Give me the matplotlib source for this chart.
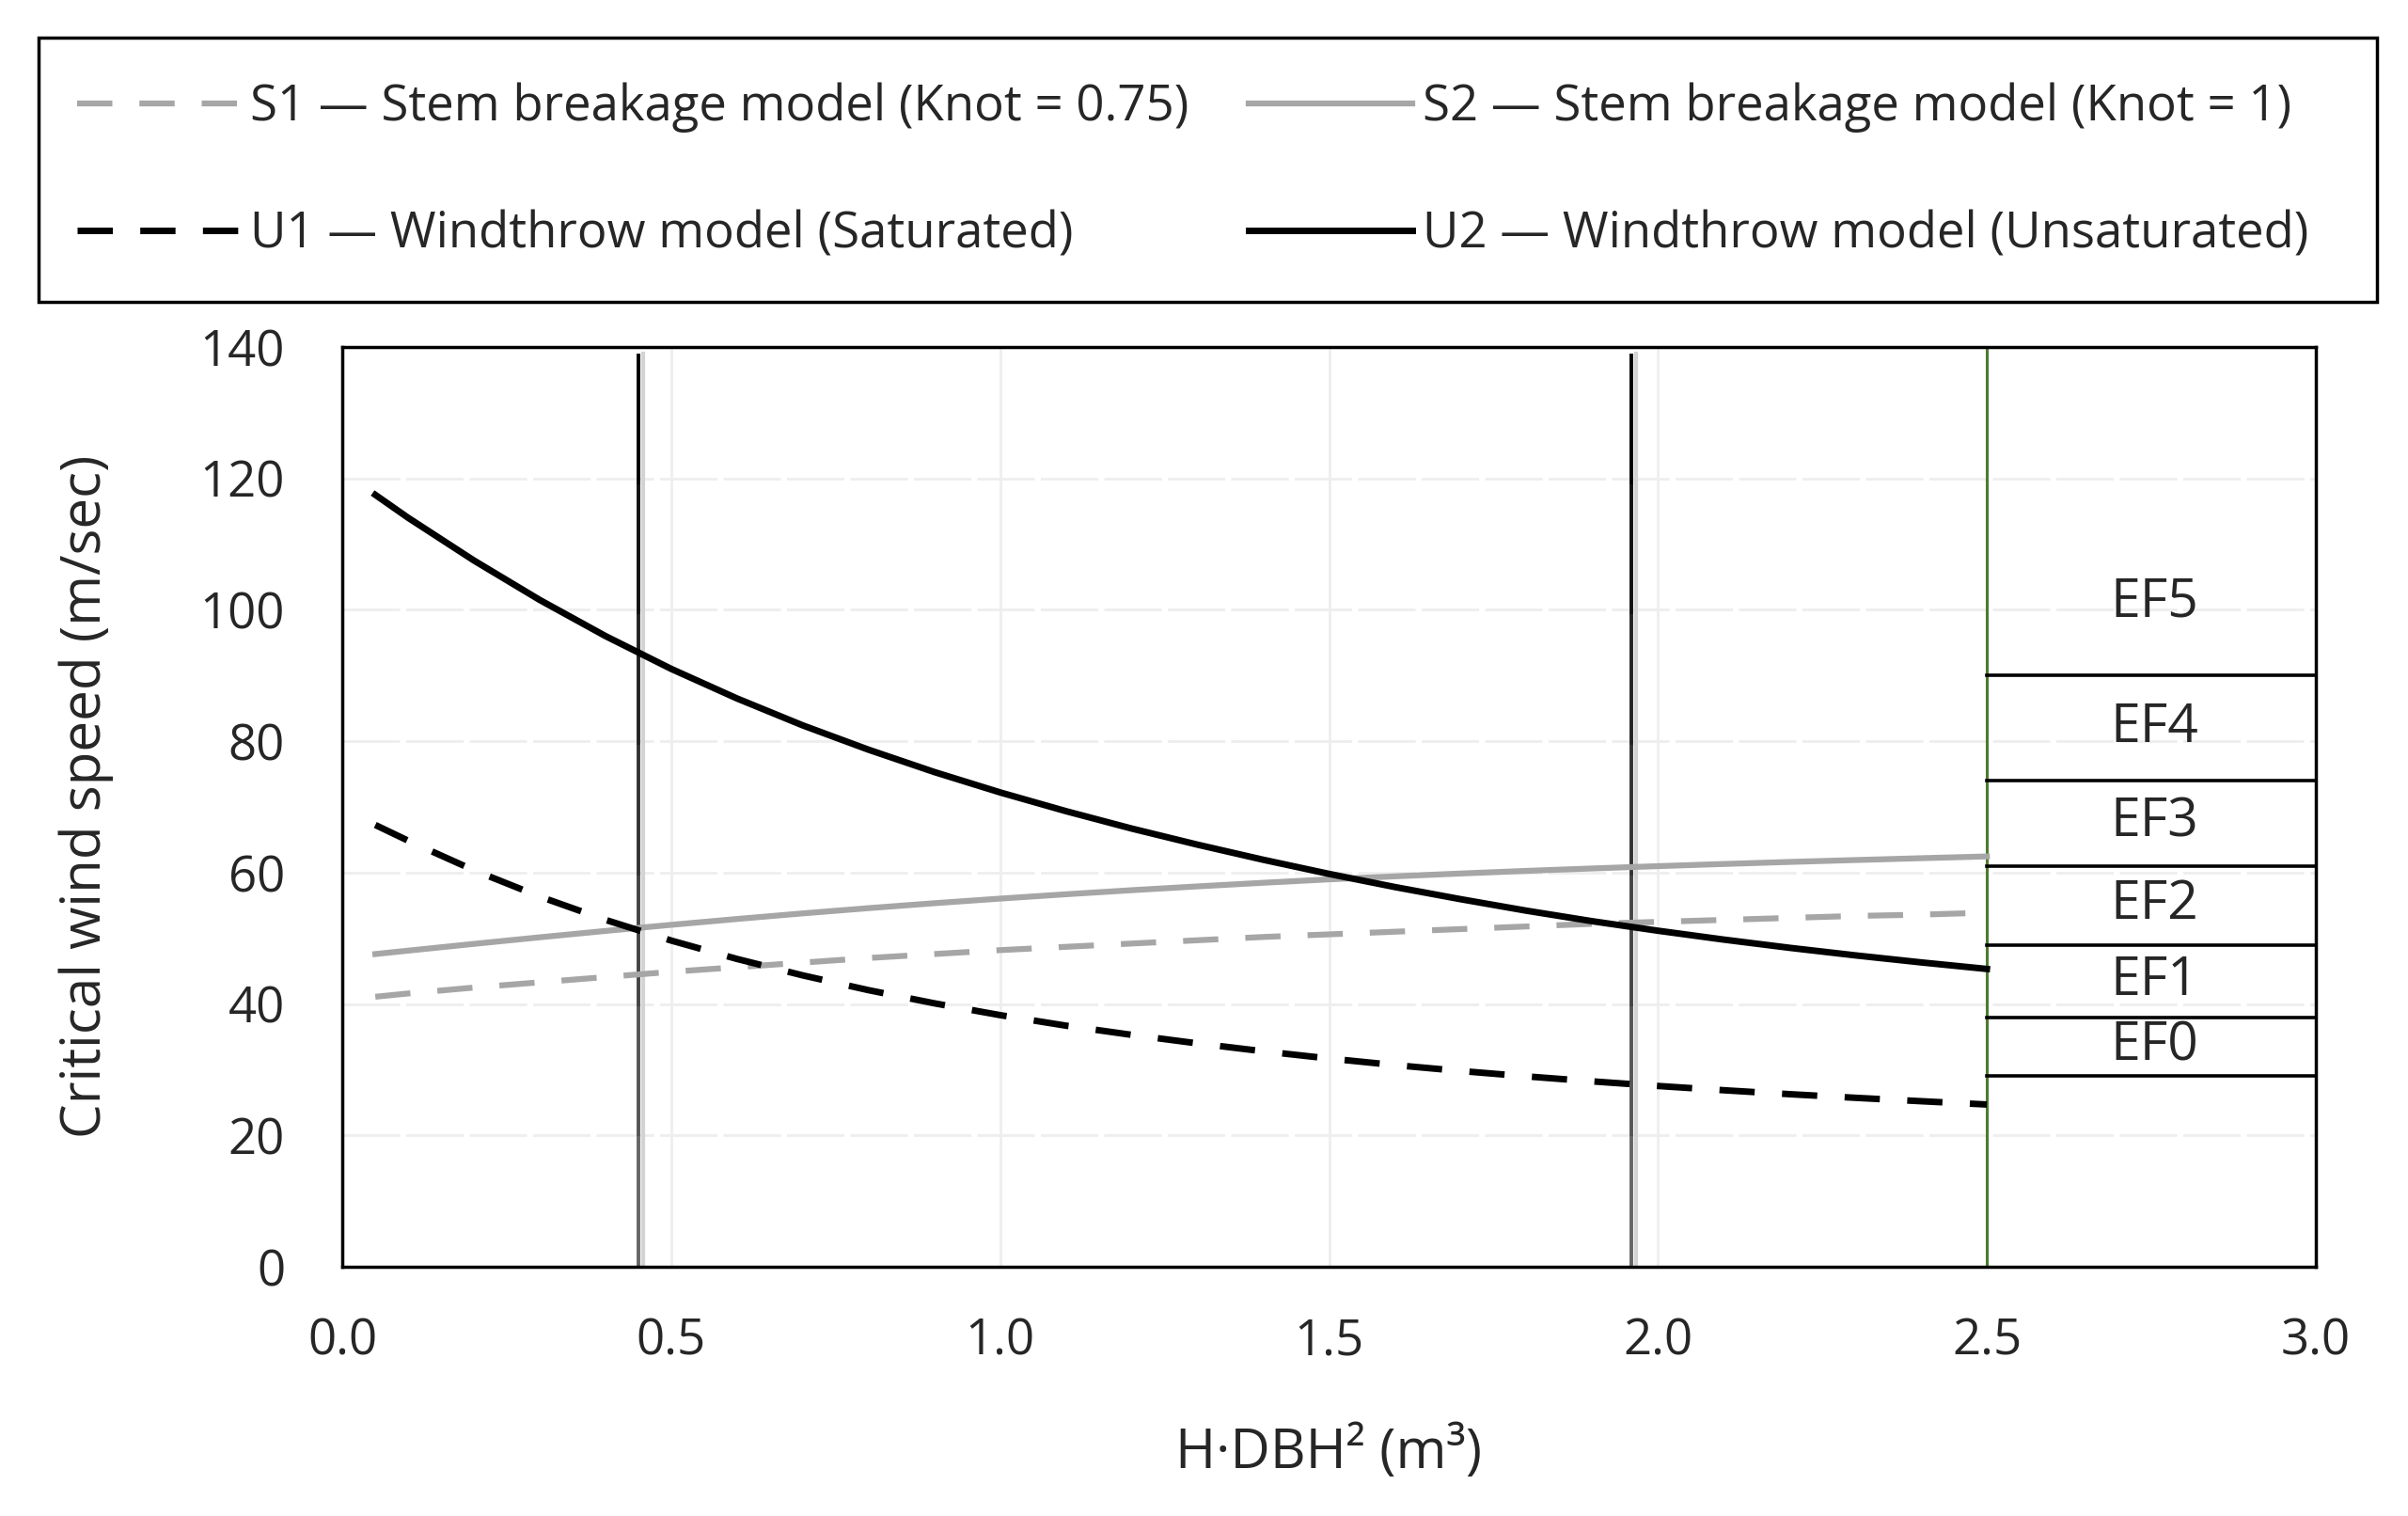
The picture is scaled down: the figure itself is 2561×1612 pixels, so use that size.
import numpy as np
import matplotlib.pyplot as plt
from matplotlib.lines import Line2D
from matplotlib.patches import Rectangle
from matplotlib.collections import LineCollection

plt.rcParams['font.family'] = ['Open Sans', 'DejaVu Sans']

# H*DBH^2 (m3) at which the curves were read
hdbh2 = [0.05, 0.1, 0.2, 0.3, 0.4, 0.5, 0.6, 0.7, 0.8, 0.9, 1.0, 1.1, 1.2,
         1.3, 1.4, 1.5, 1.6, 1.7, 1.8, 1.9, 2.0, 2.1, 2.2, 2.3, 2.4, 2.5]

# critical wind speed (m/sec)
s1_knot075 = [41.1, 41.6, 42.5, 43.3, 44.1, 44.9, 45.6, 46.3, 47.0, 47.6, 48.2,
              48.7, 49.2, 49.7, 50.2, 50.6, 51.0, 51.4, 51.8, 52.2, 52.5, 52.8,
              53.1, 53.4, 53.6, 53.9]
s2_knot1 = [47.6, 48.12, 49.15, 50.15, 51.12, 52.05, 52.94, 53.79, 54.59, 55.34,
            56.04, 56.7, 57.32, 57.9, 58.45, 58.97, 59.43, 59.86, 60.26, 60.63,
            60.98, 61.31, 61.62, 61.91, 62.19, 62.46]
u1_saturated = [67.25, 64.85, 60.35, 56.35, 52.8, 49.65, 46.85, 44.35, 42.1, 40.1,
                38.3, 36.7, 35.3, 34.0, 32.8, 31.7, 30.7, 29.8, 28.98, 28.22,
                27.52, 26.87, 26.27, 25.72, 25.2, 24.7]
u2_unsaturated = [117.5, 114.0, 107.5, 101.5, 96.0, 91.0, 86.5, 82.4, 78.7, 75.3,
                  72.2, 69.35, 66.7, 64.25, 61.95, 59.8, 57.8, 55.95, 54.2, 52.6,
                  51.15, 49.8, 48.55, 47.4, 46.33, 45.33]

labels = ["S1 \u2014 Stem breakage model (Knot = 0.75)",
          "S2 \u2014 Stem breakage model (Knot = 1)",
          "U1 \u2014 Windthrow model (Saturated)",
          "U2 \u2014 Windthrow model (Unsaturated)"]

# EF scale (m/sec): lower bound of each class
ef_names = ["EF0", "EF1", "EF2", "EF3", "EF4", "EF5"]
ef_bounds = [29, 38, 49, 61, 74, 90]
ef_top_label = 101
ef_start = 2.5

# vertical marker lines
vline_x = [0.4504, 1.959]

xticks = [0.0, 0.5, 1.0, 1.5, 2.0, 2.5, 3.0]
yticks = [0, 20, 40, 60, 80, 100, 120, 140]

gray = '#a6a6a6'
txt = '#262626'

fig = plt.figure(figsize=(25.61, 16.12), dpi=100)
ax = fig.add_axes([0.1422, 0.1644, 0.8195, 0.6067])

ax.set_xlim(0, 3.0)
ax.set_ylim(0, 140)
ax.set_xticks(xticks)
ax.set_xticklabels([f"{t:.1f}" for t in xticks])
ax.set_yticks(yticks)
ax.tick_params(axis='both', length=0, labelsize=38, labelcolor=txt)
ax.tick_params(axis='y', pad=44)
ax.tick_params(axis='x', pad=38)
for sp in ax.spines.values():
    sp.set_linewidth(2.5)
    sp.set_color('black')

ax.set_axisbelow(True)
ax.xaxis.grid(True, color='#eeeeee', lw=2)
ax.yaxis.grid(True, color='#eeeeee', lw=2, linestyle=(0, (22, 2.3)))

# vertical lines: light shadow + black-to-gray gradient
n_steps = 7
ys = np.linspace(0, 139, n_steps + 1)
shades = [str(v) for v in np.linspace(0.40, 0.0, n_steps)]
for x in vline_x:
    ax.plot([x + 0.007, x + 0.007], [0, 139], color='#d3d3d3', lw=3, zorder=2)
    segs = [[(x, ys[i]), (x, ys[i + 1])] for i in range(n_steps)]
    ax.add_collection(LineCollection(segs, colors=shades, linewidths=2.8,
                                     capstyle='butt', zorder=2))
ax.plot([ef_start, ef_start], [0, 140], color='#4e7b2f', lw=2.2, zorder=2)

# EF class boxes
for i, (name, lo) in enumerate(zip(ef_names, ef_bounds)):
    ax.plot([ef_start, 3.0], [lo, lo], color='black', lw=2.6, zorder=2)
    if i + 1 < len(ef_bounds):
        yc = (lo + ef_bounds[i + 1]) / 2
    else:
        yc = ef_top_label
    ax.text(2.755, yc, name, ha='center', va='center', fontsize=41, color=txt)

l_s1, = ax.plot(hdbh2, s1_knot075, color=gray, lw=4.5, dashes=(6.0, 4.6), zorder=3)
l_s2, = ax.plot(hdbh2, s2_knot1, color=gray, lw=4.5, zorder=3)
l_u1, = ax.plot(hdbh2, u1_saturated, color='black', lw=5, dashes=(5.4, 4.2), zorder=4)
l_u2, = ax.plot(hdbh2, u2_unsaturated, color='black', lw=5, zorder=4)

ax.set_xlabel("H\u00b7DBH\u00b2 (m\u00b3)", fontsize=42, color=txt, va='center')
ax.xaxis.set_label_coords(0.5, -0.2035)
ax.set_ylabel("Critical wind speed (m/sec)", fontsize=42, color=txt, va='center')
ax.yaxis.set_label_coords(-0.1296, 0.511)

# legend box above the plot
fig.add_artist(Rectangle((0.016, 0.801), 0.971, 0.174, transform=fig.transFigure,
                         fill=False, edgecolor='black', lw=2.5))
fig.legend([l_s1, l_u1, l_s2, l_u2], [labels[0], labels[2], labels[1], labels[3]],
           loc='center', bbox_to_anchor=(0.4953, 0.887), ncol=2, frameon=False,
           fontsize=38, labelcolor=txt, handlelength=3.3, handletextpad=0.2,
           columnspacing=1.2, labelspacing=1.56)

fig.savefig('out.png', dpi=100)
